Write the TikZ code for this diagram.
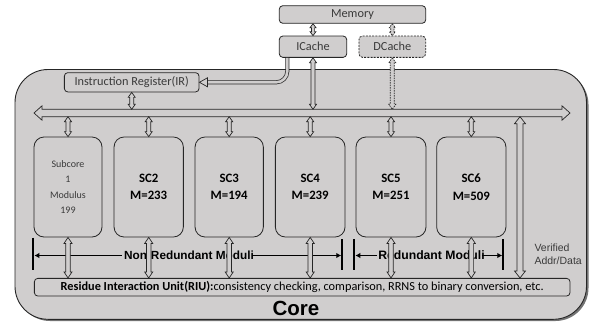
\documentclass[tikz,border=0pt]{standalone}
\usepackage{fontspec}
\setmainfont{Carlito}
\newfontfamily\arialf{Liberation Sans}
\usetikzlibrary{arrows.meta,calc}
\definecolor{corefill}{HTML}{D0CECE}
\definecolor{edge}{HTML}{262626}
\definecolor{txt}{HTML}{3A3A3A}
\tikzset{
  box/.style={draw=edge, fill=corefill, line width=0.8pt, rounded corners=3.5pt, inner sep=0pt, text=txt},
  subbox/.style={draw=edge, fill=corefill, line width=0.8pt, rounded corners=10pt, inner sep=0pt, align=center},
  scbold/.style={font=\bfseries\fontsize{12.8}{17.5}\selectfont},
  arrowsty/.style={draw=edge, fill=corefill, line width=0.7pt, line join=miter},
  spanbar/.style={draw=black, line width=2pt},
  spanline/.style={draw=black, line width=1.4pt, -{Latex[length=5pt,width=5.5pt]}},
}
% vertical two-headed hollow arrow: [style]{top}{bottom}{shaft half}{head half}{head length}
\newcommand\varrow[6][]{%
  \filldraw[arrowsty,#1] let \p1=(#2), \p2=(#3) in
   (\x1,\y1) -- (\x1+#5,\y1-#6) -- (\x1+#4,\y1-#6) -- (\x1+#4,\y2+#6) -- (\x1+#5,\y2+#6)
   -- (\x1,\y2) -- (\x1-#5,\y2+#6) -- (\x1-#4,\y2+#6) -- (\x1-#4,\y1-#6) -- (\x1-#5,\y1-#6) -- cycle;}
\begin{document}
\begin{tikzpicture}[x=1pt,y=-1pt]
\useasboundingbox (0,0) rectangle (597,322);
% core
\fill[black!55, rounded corners=33pt] (17,71.5) rectangle (588.5,321);
\draw[draw=edge, fill=corefill, line width=0.9pt, rounded corners=33pt] (15,69.5) rectangle (586.5,319.3);
\node[font=\arialf\bfseries\fontsize{20.5}{22}\selectfont] (core) at (296,308) {Core};

% top boxes
\node[box, minimum width=146.4pt, minimum height=17.6pt, font=\fontsize{12.3}{14}\selectfont] (mem) at (352.5,14.5) {Memory};
\node[box, minimum width=67.4pt, minimum height=21.3pt, font=\fontsize{12.3}{14}\selectfont] (ic) at (313,46.7) {ICache};
\node[box, dashed, dash pattern=on 2pt off 1.2pt, minimum width=66.7pt, minimum height=21.3pt, font=\fontsize{12.3}{14}\selectfont] (dc) at (392.3,46.7) {DCache};
\node[box, minimum width=134.7pt, minimum height=19.3pt, font=\fontsize{12.3}{14}\selectfont] (ir) at (131.7,82.3) {Instruction Register(IR)};

% sub cores
\node[subbox, minimum width=68pt, minimum height=100pt, text=txt, font=\fontsize{10}{15.2}\selectfont] (sc1) at (68,187) {Subcore\\1\\Modulus\\199};
\node[subbox, minimum width=69.3pt, minimum height=100pt, scbold] (sc2) at (148.7,187) {SC2\\M=233};
\node[subbox, minimum width=68.3pt, minimum height=100pt, scbold] (sc3) at (229.2,187) {SC3\\M=194};
\node[subbox, minimum width=69.7pt, minimum height=100pt, scbold] (sc4) at (310.2,187) {SC4\\M=239};
\node[subbox, minimum width=70pt, minimum height=100pt, scbold] (sc5) at (391,187) {SC5\\M=251};
\node[subbox, minimum width=69.3pt, minimum height=100pt, scbold] (sc6) at (471.3,187) {SC6\\M=509};

% RIU
\node[box, text=black, minimum width=535.7pt, minimum height=17.7pt, font=\fontsize{12.3}{14}\selectfont] (riu) at (302.2,287.2) {\textbf{Residue Interaction Unit(RIU):}consistency checking, comparison, RRNS to binary conversion, etc.};

% span markers
\coordinate (nrL) at (33.3,255.5);
\coordinate (nrR) at (342.3,255.5);
\coordinate (rL) at (354.3,255.5);
\coordinate (rR) at (503.3,255.5);
\draw[spanbar] ($(nrL)+(0,-17.8)$) -- ($(nrL)+(0,14.5)$);
\draw[spanbar] ($(nrR)+(0,-16.5)$) -- ($(nrR)+(0,14.5)$);
\draw[spanbar] ($(rL)+(0,-16.5)$) -- ($(rL)+(0,14.5)$);
\draw[spanbar] ($(rR)+(0,-16.5)$) -- ($(rR)+(0,14.5)$);
\node[font=\arialf\bfseries\fontsize{11.8}{13}\selectfont, inner sep=2pt] (nrt) at (189,255.5) {Non-Redundant Moduli};
\node[font=\arialf\bfseries\fontsize{12.2}{13}\selectfont, inner sep=1pt] (rt) at (431.5,255.5) {Redundant Moduli};
\draw[spanline] (nrt.west) -- ($(nrL)+(1,0)$);
\draw[spanline] ($(nrt.east)+(-4,0)$) -- ($(nrR)+(-1,0)$);
\draw[spanline] (rt.west) -- ($(rL)+(1,0)$);
\draw[spanline] ($(rt.east)+(-4,0)$) -- ($(rR)+(-1,0)$);

% bus
\coordinate (busL) at (34,113);
\coordinate (busR) at (570,113);
\coordinate (busbot) at (0,116.7);
\coordinate (bustop) at (0,109.3);
\filldraw[arrowsty] let \p1=(busL), \p2=(busR) in
  (\x1,\y1) -- (\x1+8pt,\y1+7.2pt) -- (\x1+8pt,\y1+3.7pt) -- (\x2-8pt,\y1+3.7pt) -- (\x2-8pt,\y1+7.2pt)
  -- (\x2,\y1) -- (\x2-8pt,\y1-7.2pt) -- (\x2-8pt,\y1-3.7pt) -- (\x1+8pt,\y1-3.7pt) -- (\x1+8pt,\y1-7.2pt) -- cycle;

% small arrows
\varrow{ic.north |- mem.south}{ic.north}{1.6pt}{3pt}{4pt}
\varrow[dashed, dash pattern=on 1.5pt off 1pt]{dc.north |- mem.south}{dc.north}{1.6pt}{3pt}{4pt}
\varrow{ic.south}{ic.south |- bustop}{2pt}{3.5pt}{5pt}
\varrow[dashed, dash pattern=on 1.5pt off 1pt]{dc.south}{dc.south |- bustop}{2pt}{3.5pt}{5pt}
\varrow{ir.south}{ir.south |- bustop}{2pt}{3.5pt}{5pt}
\foreach \s in {sc1,sc2,sc3,sc4,sc5,sc6}{
  \varrow{\s.north |- busbot}{\s.north}{2pt}{3.5pt}{5pt}
  \varrow{\s.south}{\s.south |- riu.north}{2.3pt}{4pt}{6pt}
}
% verified arrow
\coordinate (vtop) at (520,116.7);
\varrow{vtop}{vtop |- riu.north}{3pt}{5.5pt}{7pt}
\node[anchor=west, align=left, text=txt, font=\arialf\fontsize{10.5}{13}\selectfont] (ver) at (531,254.5) {Verified\\Addr/Data};

% ICache -> IR curved arrow
\coordinate (icout) at ($(ic.south)+(-25.7,0)$);
\coordinate (irhead) at ($(ir.east)+(7.5,0)$);
\draw[edge, double=corefill, double distance=2.6pt, line width=0.7pt, rounded corners=11pt] (icout) |- (irhead);
\filldraw[arrowsty] let \p1=(ir.east) in (\x1,\y1) -- (\x1+8pt,\y1+4.5pt) -- (\x1+8pt,\y1-4.5pt) -- cycle;
\end{tikzpicture}
\end{document}
